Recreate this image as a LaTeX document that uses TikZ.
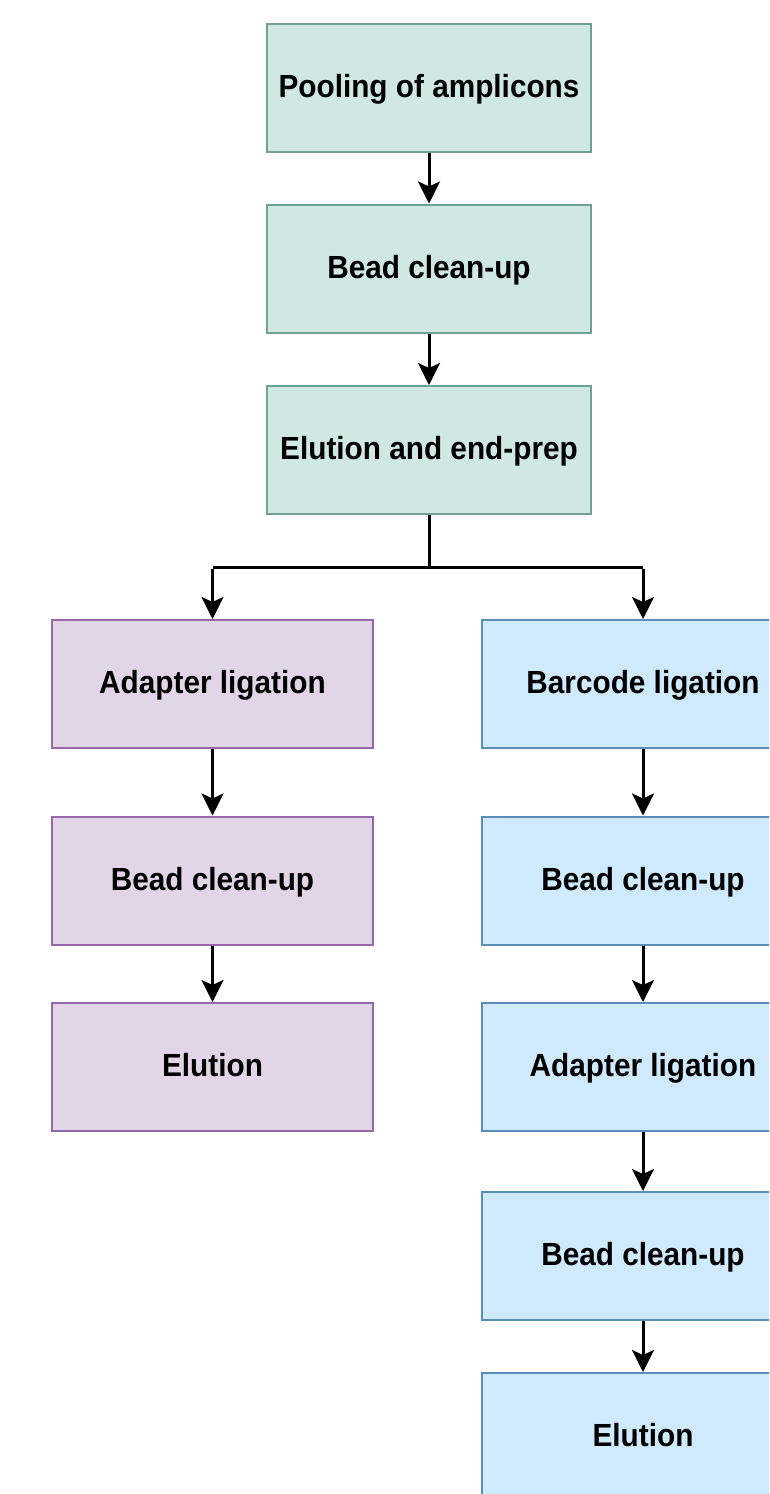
\documentclass[tikz,border=0pt]{standalone}
\usepackage{fontspec}
\setmainfont{Liberation Sans}[FakeStretch=0.93]
\usetikzlibrary{arrows.meta}
\definecolor{tealfill}{RGB}{207,232,226}
\definecolor{tealdraw}{RGB}{112,160,148}
\definecolor{purpfill}{RGB}{225,213,231}
\definecolor{purpdraw}{RGB}{150,104,170}
\definecolor{bluefill}{RGB}{206,234,252}
\definecolor{bluedraw}{RGB}{92,140,184}
\tikzset{
  box/.style={rectangle, line width=2pt, minimum height=128pt, inner sep=0pt,
    text height=23pt, text depth=4pt,
    font=\fontsize{32}{38}\selectfont\bfseries, text=black},
  tealbox/.style={box, fill=tealfill, draw=tealdraw, minimum width=324pt},
  purpbox/.style={box, fill=purpfill, draw=purpdraw, minimum width=321pt},
  bluebox/.style={box, fill=bluefill, draw=bluedraw, minimum width=322pt},
  arr/.style={line width=3pt, -{Stealth[length=22pt,width=22pt,inset=5pt]}},
  ln/.style={line width=3pt}
}
\begin{document}
\begin{tikzpicture}[x=1pt,y=-1pt]
\clip (0,0) rectangle (769,1494);
\useasboundingbox (0,0) rectangle (769,1494);
\fill[white] (0,0) rectangle (769,1494);
\node[tealbox] (t1) at (429,87.5) {Pooling of amplicons};
\node[tealbox] (t2) at (429,268.5) {Bead clean-up};
\node[tealbox] (t3) at (429,450) {Elution and end-prep};
\node[purpbox] (l1) at (212.5,684) {Adapter ligation};
\node[purpbox] (l2) at (212.5,880.5) {Bead clean-up};
\node[purpbox] (l3) at (212.5,1067) {Elution};
\node[bluebox] (r1) at (643,684) {Barcode ligation};
\node[bluebox] (r2) at (643,880.5) {Bead clean-up};
\node[bluebox] (r3) at (643,1067) {Adapter ligation};
\node[bluebox] (r4) at (643,1256) {Bead clean-up};
\node[bluebox] (r5) at (643,1437) {Elution};
\coordinate (split) at (429,567);
\coordinate (sl) at (212.5,567);
\coordinate (sr) at (643,567);
\draw[arr] (t1) -- (t2);
\draw[arr] (t2) -- (t3);
\draw[ln] (t3.south) -- (split);
\draw[ln, line join=miter] (split) -- (sl);
\draw[ln] (split) -- (sr);
\draw[arr] ([yshift=-1.5pt]sl) -- (l1.north);
\draw[arr] ([yshift=-1.5pt]sr) -- (r1.north);
\draw[arr] (l1) -- (l2);
\draw[arr] (l2) -- (l3);
\draw[arr] (r1) -- (r2);
\draw[arr] (r2) -- (r3);
\draw[arr] (r3) -- (r4);
\draw[arr] (r4) -- (r5);
\end{tikzpicture}
\end{document}
